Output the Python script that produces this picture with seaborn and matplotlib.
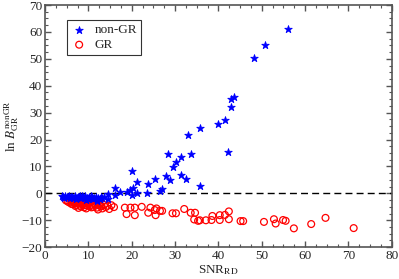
import matplotlib
matplotlib.use("Agg")
import matplotlib.pyplot as plt
import seaborn as sns
from matplotlib.ticker import MultipleLocator

# non-GR injections: low-SNR cluster then the rising branch
nongr_snr = [3.8, 4.2, 4.6, 5.0, 5.3, 5.6, 5.9, 6.2,
             6.5, 6.8, 7.0, 7.3, 7.6, 7.9, 8.1, 8.4,
             8.7, 9.0, 9.3, 9.6, 9.9, 10.2, 10.5, 10.8,
             11.1, 11.4, 11.7, 12.0, 12.3, 12.6, 12.9, 13.2,
             13.5, 4.4, 5.8, 7.1, 8.6, 9.4, 10.6, 11.9,
             12.7, 14.6, 14.6, 16.1, 20.0, 16.1, 17.3, 18.8,
             19.7, 20.2, 21.3, 23.4, 26.5, 27.0, 20.0, 21.1,
             23.8, 25.3, 28.0, 28.9, 29.6, 30.1, 31.3, 31.3,
             32.5, 28.4, 33.6, 35.7, 33.0, 35.7, 39.8, 41.4,
             42.1, 43.0, 43.0, 43.7, 48.2, 50.7, 56.1]
nongr_lnb = [-1.0, -1.2, -1.1, -1.4, -1.3, -1.0, -1.5, -1.2,
             -1.6, -1.1, -1.4, -1.8, -1.2, -1.5, -1.0, -1.7,
             -1.3, -1.9, -1.1, -1.6, -2.0, -1.4, -1.8, -1.2,
             -2.1, -1.6, -1.3, -2.4, -1.8, -2.2, -1.5, -1.9,
             -1.2, -1.6, -1.9, -2.2, -1.0, -2.3, -1.1, -2.8,
             -2.0, -0.4, -2.2, -0.7, -0.6, 2.1, 0.6, 0.6,
             1.3, 2.1, 0.2, 0.0, 0.9, 1.7, 8.4, 4.3,
             3.3, 5.2, 6.4, 4.8, 9.7, 11.6, 6.9, 13.4,
             5.2, 14.5, 14.7, 2.7, 21.6, 24.4, 25.6, 27.4,
             15.4, 32.0, 35.2, 35.9, 50.2, 55.2, 61.2]

# GR injections
gr_snr = [4.8, 5.2, 5.6, 6.0, 6.3, 6.6, 6.9, 7.2,
          7.5, 7.8, 8.1, 8.4, 8.7, 9.0, 9.3, 9.6,
          9.9, 10.2, 10.5, 10.8, 11.1, 11.4, 11.7, 12.0,
          12.4, 12.8, 13.2, 13.6, 14.0, 14.4, 14.8, 15.3,
          15.9, 6.1, 7.0, 7.7, 8.3, 8.9, 9.5, 10.0,
          10.7, 11.5, 12.2, 13.0, 6.8, 8.0, 9.2, 10.4,
          18.4, 18.8, 19.7, 20.7, 20.7, 22.3, 23.8, 24.3,
          25.3, 25.5, 25.7, 26.5, 27.0, 29.4, 30.2, 32.1,
          33.6, 34.6, 34.4, 35.3, 35.7, 37.1, 38.4, 38.6,
          40.3, 40.3, 41.5, 42.4, 42.4, 45.1, 45.7, 50.5,
          52.8, 53.2, 54.9, 55.5, 57.4, 61.4, 64.7, 71.2]
gr_lnb = [-2.6, -3.0, -3.4, -2.8, -4.0, -3.2, -3.6, -4.3,
          -3.0, -3.8, -4.6, -3.3, -4.1, -5.2, -3.6, -4.4,
          -3.9, -4.8, -3.4, -4.2, -5.0, -3.8, -4.5, -5.3,
          -4.0, -4.7, -5.6, -4.3, -5.1, -4.6, -5.8, -4.4,
          -5.1, -3.9, -4.7, -5.4, -4.9, -3.7, -5.6, -3.2,
          -5.2, -4.1, -6.0, -4.8, -2.9, -3.5, -4.4, -3.1,
          -5.3, -7.7, -5.3, -5.3, -8.1, -5.0, -7.2, -5.3,
          -6.2, -8.1, -5.6, -6.5, -6.5, -7.4, -7.4, -5.8,
          -7.2, -7.2, -9.7, -10.2, -10.0, -10.0, -9.9, -8.4,
          -8.1, -9.9, -8.0, -6.7, -9.6, -10.3, -10.3, -10.6,
          -9.6, -11.2, -9.9, -10.2, -13.0, -11.4, -9.1, -12.9]

sns.set_style("ticks")
plt.rcParams["font.family"] = ["Liberation Serif", "DejaVu Serif"]
plt.rcParams["mathtext.fontset"] = "stix"

fig = plt.figure(figsize=(3.99, 2.79), dpi=100)
ax = fig.add_axes([0.113, 0.114, 0.869, 0.868])

ax.axhline(0, color="black", ls=(0, (5, 3)), lw=1.0, zorder=1)
sns.scatterplot(x=nongr_snr, y=nongr_lnb, marker="*", color="blue",
                edgecolor="blue", s=32, linewidth=0.6, label="non-GR", ax=ax, zorder=3)
sns.scatterplot(x=gr_snr, y=gr_lnb, marker="o", facecolors="none",
                edgecolor="red", s=24, linewidth=0.9, label="GR", ax=ax, zorder=2)

ax.set_xlim(0, 80)
ax.set_ylim(-20, 70)
ax.xaxis.set_major_locator(MultipleLocator(10))
ax.xaxis.set_minor_locator(MultipleLocator(2.5))
ax.yaxis.set_major_locator(MultipleLocator(10))
ax.yaxis.set_minor_locator(MultipleLocator(2.5))
ax.tick_params(which="both", direction="in", top=True, right=True,
               labelsize=9.5, color="#555555", pad=2)
ax.tick_params(which="major", length=4, width=1)
ax.tick_params(which="minor", length=2, width=0.8)
for sp in ax.spines.values():
    sp.set_color("#555555")
    sp.set_linewidth(1.2)

ax.set_xlabel(r"SNR$_{\rm RD}$", fontsize=9.5, labelpad=1)
ax.set_ylabel(r"ln $B^{\rm nonGR}_{\rm GR}$", fontsize=9.5, labelpad=0)

leg = ax.legend(loc="upper left", bbox_to_anchor=(0.045, 0.965), fontsize=9.5,
                frameon=True, fancybox=False, edgecolor="black",
                handletextpad=0.6, borderpad=0.3, labelspacing=0.2,
                handlelength=1.2)
leg.get_frame().set_linewidth(0.8)

fig.savefig("out.png", dpi=100)
